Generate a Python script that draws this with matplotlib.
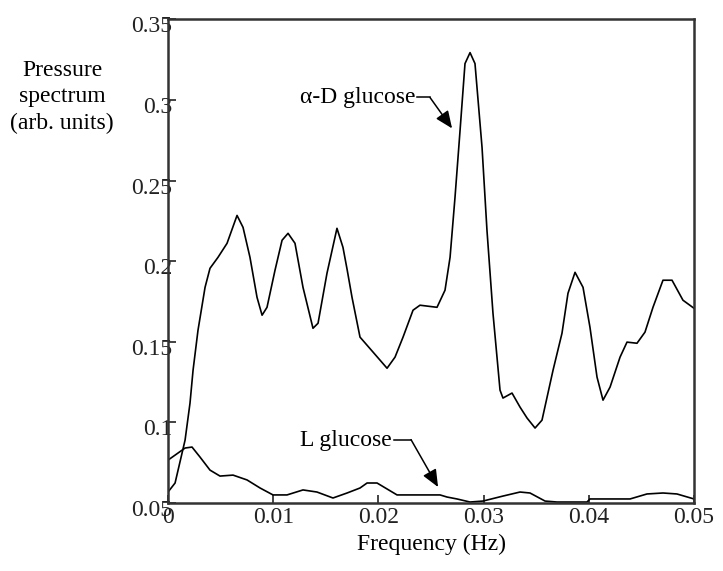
import matplotlib
matplotlib.use("Agg")
import matplotlib.pyplot as plt
import matplotlib.transforms as mtransforms

plt.rcParams['font.family'] = ['Liberation Serif', 'DejaVu Serif']

# alpha-D glucose spectrum
freq_d = [0.0, 0.00067, 0.00162, 0.00209, 0.00238, 0.00285, 0.00352, 0.00399, 0.00475,
          0.00561, 0.00656, 0.00713, 0.00779, 0.00846, 0.00894, 0.00941, 0.01017, 0.01084,
          0.01141, 0.01207, 0.01283, 0.01378, 0.01426, 0.01511, 0.01606, 0.01663, 0.01702,
          0.01749, 0.01825, 0.01949, 0.02082, 0.02158, 0.02234, 0.02329, 0.02395, 0.02557,
          0.02633, 0.02681, 0.02728, 0.02776, 0.02823, 0.02871, 0.02918, 0.02985, 0.03032,
          0.03089, 0.03156, 0.03184, 0.03270, 0.03346, 0.03413, 0.03489, 0.03555, 0.03660,
          0.03745, 0.03802, 0.03869, 0.03945, 0.04011, 0.04078, 0.04135, 0.04202, 0.04297,
          0.04363, 0.04458, 0.04534, 0.04610, 0.04705, 0.04791, 0.04895, 0.05]
spec_d = [0.0568, 0.0624, 0.0890, 0.1120, 0.1324, 0.1572, 0.1838, 0.1956, 0.2024,
          0.2111, 0.2284, 0.2210, 0.2024, 0.1776, 0.1665, 0.1714, 0.1944, 0.2130,
          0.2173, 0.2111, 0.1838, 0.1584, 0.1615, 0.1925, 0.2204, 0.2086, 0.1950,
          0.1776, 0.1529, 0.1436, 0.1336, 0.1405, 0.1529, 0.1696, 0.1727, 0.1714,
          0.1820, 0.2024, 0.2396, 0.2811, 0.3226, 0.3294, 0.3226, 0.2706, 0.2191,
          0.1677, 0.1200, 0.1151, 0.1182, 0.1095, 0.1027, 0.0965, 0.1014, 0.1324,
          0.1553, 0.1801, 0.1931, 0.1838, 0.1590, 0.1281, 0.1138, 0.1219, 0.1405,
          0.1498, 0.1491, 0.1560, 0.1714, 0.1882, 0.1882, 0.1758, 0.1708]

# L glucose spectrum
freq_l = [0.0, 0.00162, 0.00228, 0.00304, 0.00399, 0.00494, 0.00618, 0.00751, 0.00875,
          0.00998, 0.01131, 0.01283, 0.01416, 0.01568, 0.01702, 0.01825, 0.01892, 0.01987,
          0.02177, 0.02586, 0.02652, 0.02747, 0.02871, 0.02994, 0.03184, 0.03346, 0.03441,
          0.03584, 0.03698, 0.03983, 0.04011, 0.04392, 0.04553, 0.04705, 0.04838, 0.05]
spec_l = [0.0766, 0.0841, 0.0847, 0.0785, 0.0704, 0.0667, 0.0673, 0.0643, 0.0593,
          0.0550, 0.0550, 0.0581, 0.0568, 0.0531, 0.0562, 0.0593, 0.0624, 0.0624,
          0.0550, 0.0550, 0.0537, 0.0525, 0.0506, 0.0512, 0.0543, 0.0568, 0.0562,
          0.0512, 0.0506, 0.0506, 0.0525, 0.0525, 0.0556, 0.0562, 0.0556, 0.0525]

x_ticks = [0, 0.01, 0.02, 0.03, 0.04, 0.05]
x_labels = ['0', '0.01', '0.02', '0.03', '0.04', '0.05']
y_ticks = [0.05, 0.1, 0.15, 0.2, 0.25, 0.3, 0.35]
y_labels = ['0.05', '0.1', '0.15', '0.2', '0.25', '0.3', '0.35']

fig = plt.figure(figsize=(7.23, 5.71), dpi=100)
ax = fig.add_axes([0.2324, 0.1191, 0.7275, 0.8469])

ax.plot(freq_d, spec_d, color='black', lw=1.2)
ax.plot(freq_l, spec_l, color='black', lw=1.2)

ax.set_xlim(0, 0.05)
ax.set_ylim(0.05, 0.35)
ax.set_xticks(x_ticks)
ax.set_xticklabels(x_labels)
ax.set_yticks(y_ticks)
ax.set_yticklabels(y_labels)
ax.tick_params(direction='in', length=6, width=1.2, labelsize=17, colors='#222222')
ax.tick_params(axis='y', pad=-3)
ax.tick_params(axis='x', pad=3)
for s in ax.spines.values():
    s.set_linewidth(1.8)
    s.set_color('#333333')

offset = mtransforms.ScaledTranslation(0, -5 / 100, fig.dpi_scale_trans)
for lab in ax.get_yticklabels():
    lab.set_transform(lab.get_transform() + offset)

ax.set_xlabel('Frequency (Hz)', fontsize=17, labelpad=4)
fig.text(62 / 723, 1 - 97 / 571, 'Pressure\nspectrum\n(arb. units)', ha='center', va='center',
         fontsize=17, linespacing=1.35)

# annotations
ax.text(0.02350, 0.3016, 'α-D glucose', ha='right', va='center', fontsize=17)
ax.plot([0.02370, 0.02490], [0.3016, 0.3016], color='black', lw=1.1)
ax.annotate('', xy=(0.0270, 0.2824), xytext=(0.02490, 0.3016),
            arrowprops=dict(arrowstyle='-|>,head_length=0.7,head_width=0.3', color='black',
                            lw=1.1, shrinkA=0, shrinkB=0, mutation_scale=15))

ax.text(0.02130, 0.0890, 'L glucose', ha='right', va='center', fontsize=17)
ax.plot([0.02148, 0.02310], [0.0893, 0.0893], color='black', lw=1.1)
ax.annotate('', xy=(0.02567, 0.0599), xytext=(0.02310, 0.0893),
            arrowprops=dict(arrowstyle='-|>,head_length=0.7,head_width=0.3', color='black',
                            lw=1.1, shrinkA=0, shrinkB=0, mutation_scale=15))

fig.savefig('out.png', dpi=100)
